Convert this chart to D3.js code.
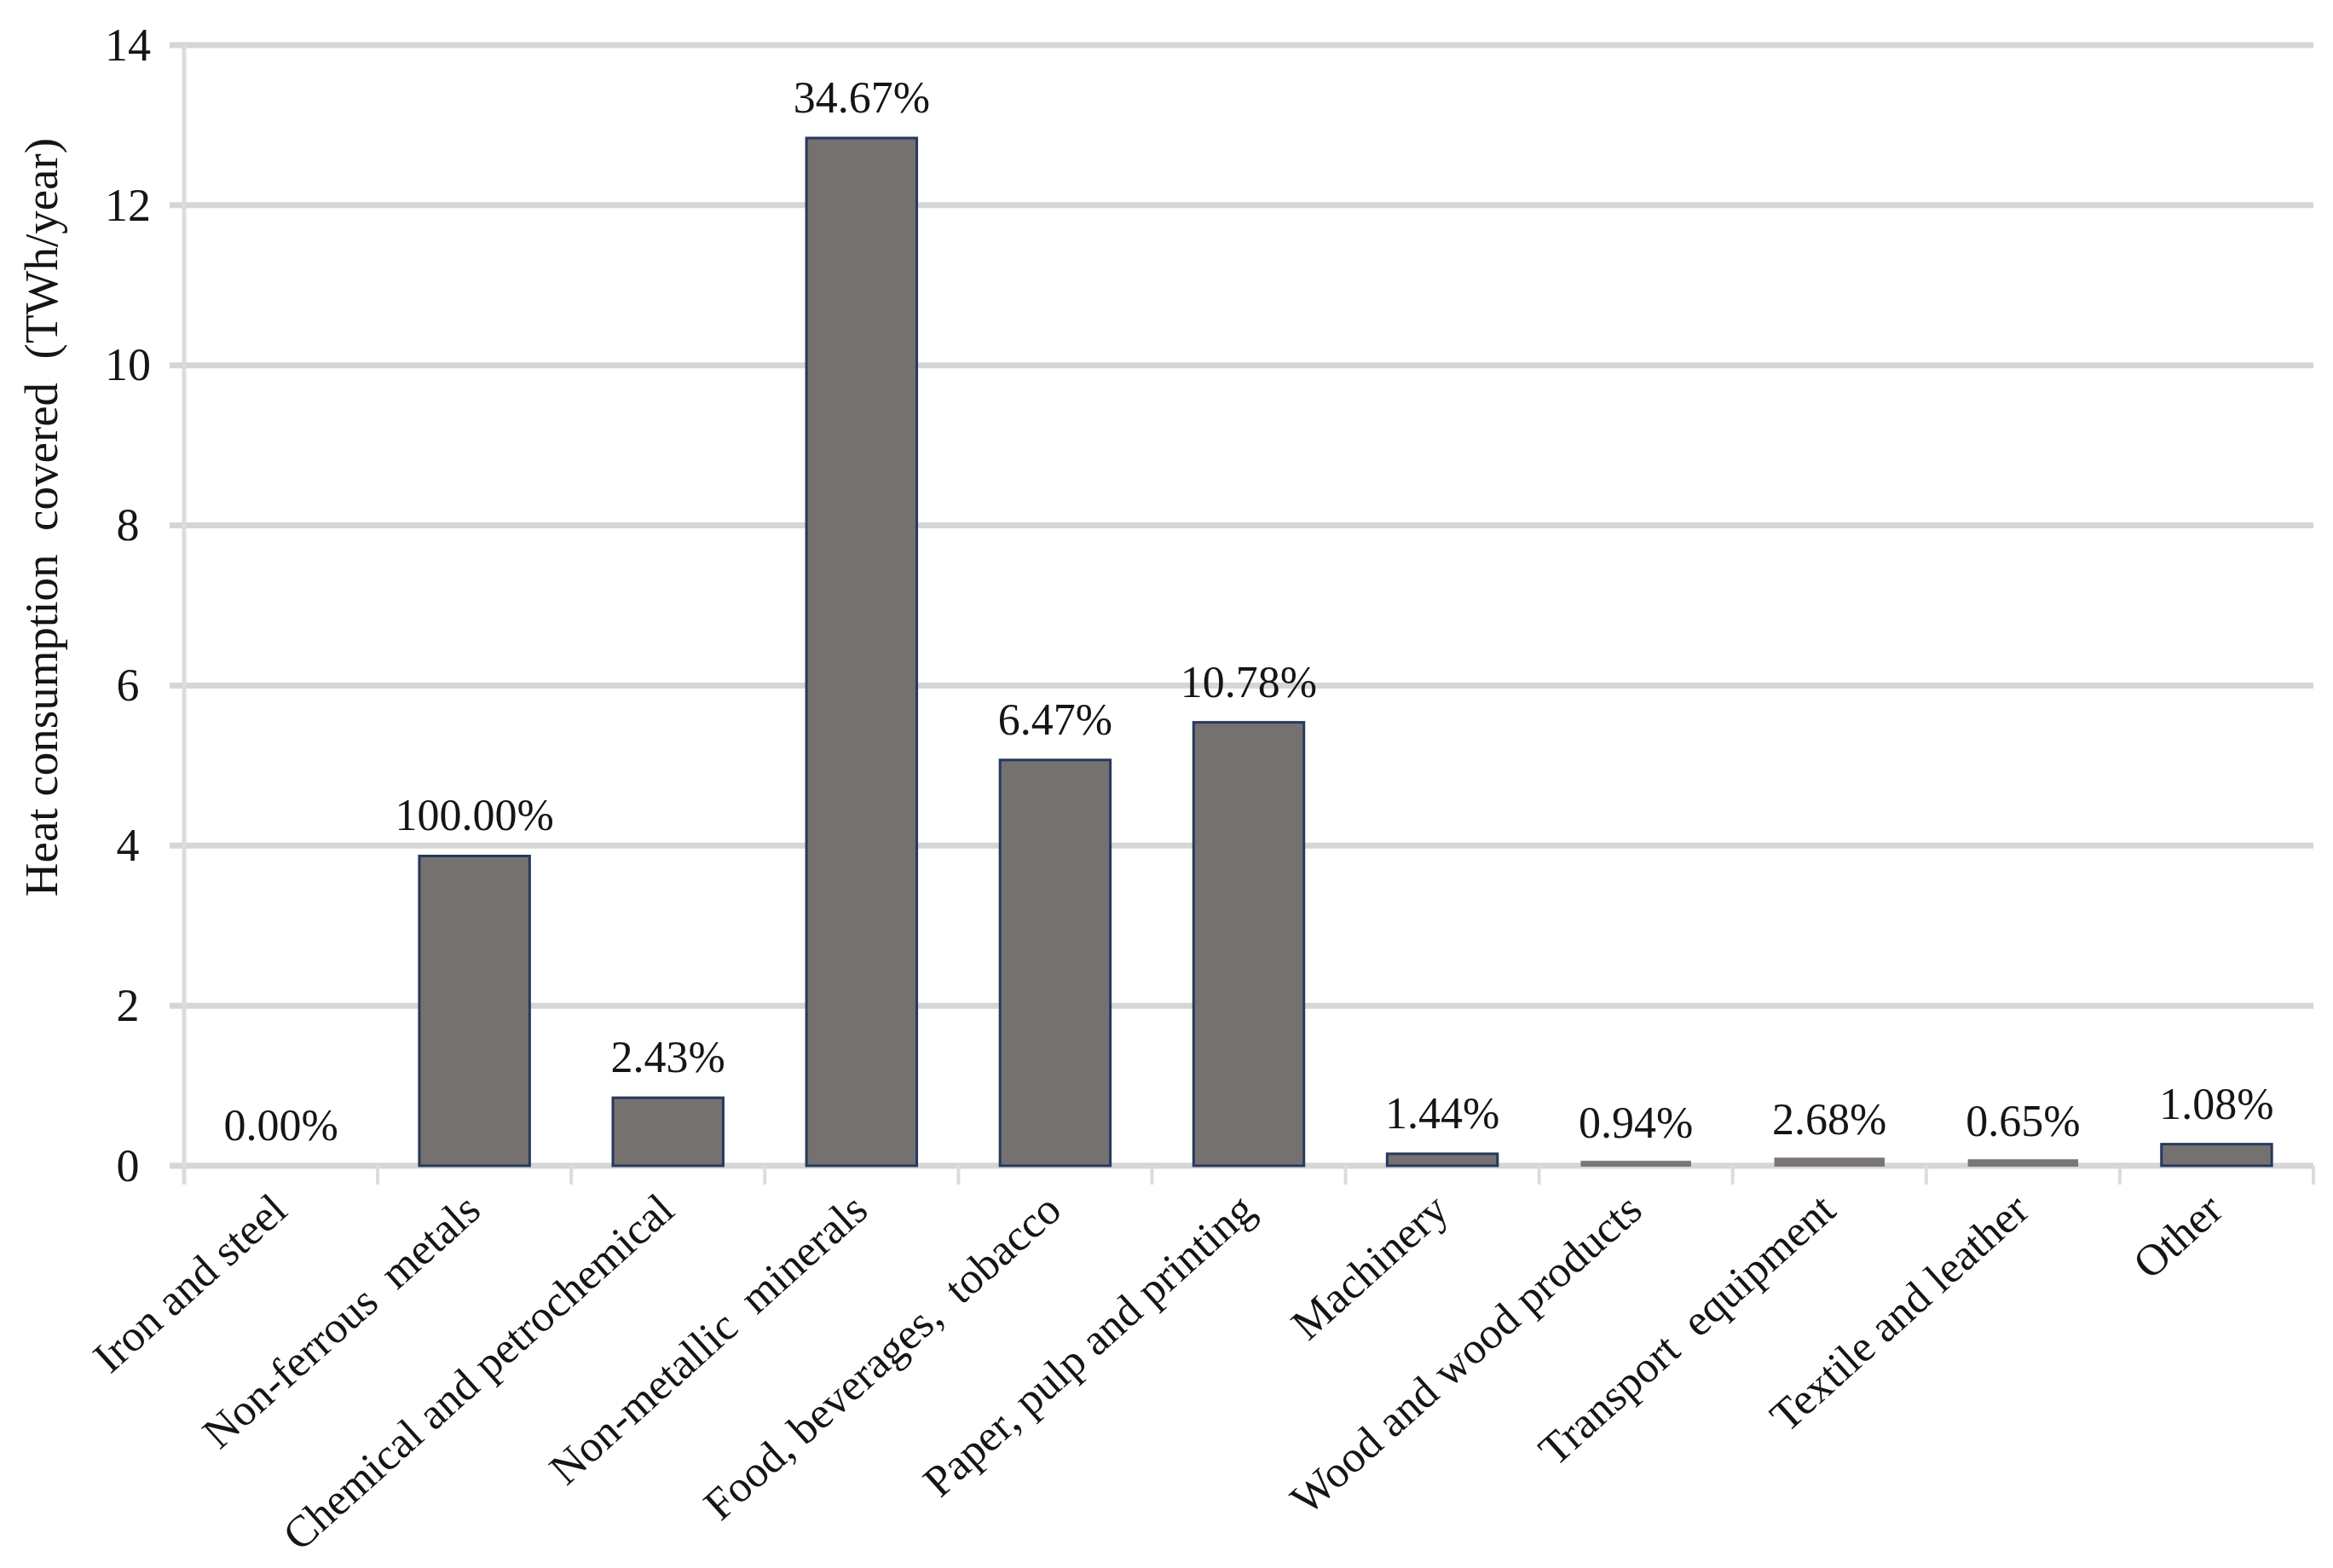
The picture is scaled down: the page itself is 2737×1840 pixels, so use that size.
<!DOCTYPE html>
<html>
<head>
<meta charset="utf-8">
<script src="https://cdn.jsdelivr.net/npm/d3@7"></script>
<style>
  html, body { margin: 0; padding: 0; background: #ffffff; }
  svg { display: block; }
  text { font-family: "Liberation Serif", "Times New Roman", serif; fill: #151515; }
</style>
</head>
<body>
<script>
const categories = [
  "Iron and steel",
  "Non-ferrous  metals",
  "Chemical and petrochemical",
  "Non-metallic  minerals",
  "Food, beverages,  tobacco",
  "Paper, pulp and printing",
  "Machinery",
  "Wood and wood products",
  "Transport  equipment",
  "Textile and leather",
  "Other"
];
const values = [0, 3.87, 0.85, 12.84, 5.07, 5.54, 0.15, 0.03, 0.07, 0.05, 0.27];
const shareLabels = ["0.00%", "100.00%", "2.43%", "34.67%", "6.47%", "10.78%", "1.44%", "0.94%", "2.68%", "0.65%", "1.08%"];
const yTicks = [0, 2, 4, 6, 8, 10, 12, 14];
const yTitle = "Heat consumption  covered  (TWh/year)";

const chartW = 2737, chartH = 1840;
const plotL = 216, plotR = 2714, plotT = 53, plotB = 1368;

const rows = categories.map((c, i) => ({ cat: c, val: values[i], lab: shareLabels[i] }));

const svg = d3.select("body").append("svg")
  .attr("width", chartW).attr("height", chartH)
  .attr("viewBox", `0 0 ${chartW} ${chartH}`);

svg.append("rect").attr("width", chartW).attr("height", chartH).attr("fill", "#ffffff");

const x = d3.scaleBand().domain(categories).range([plotL, plotR])
  .paddingInner(0.43).paddingOuter(0.215);
const y = d3.scaleLinear().domain([0, 14]).range([plotB, plotT]);

// gridlines
svg.append("g").selectAll("line").data(yTicks).join("line")
  .attr("x1", plotL - 17).attr("x2", plotR)
  .attr("y1", d => y(d)).attr("y2", d => y(d))
  .attr("stroke", "#d6d6d6").attr("stroke-width", 7);

// y axis line
svg.append("line")
  .attr("x1", plotL).attr("x2", plotL)
  .attr("y1", y(14)).attr("y2", plotB + 22)
  .attr("stroke", "#dcdcdc").attr("stroke-width", 5);

// x ticks at band boundaries
const boundaries = categories.slice(1).map(c => x(c) - x.step() * x.paddingInner() / 2).concat([plotR]);
svg.append("g").selectAll("line").data(boundaries).join("line")
  .attr("x1", d => d).attr("x2", d => d)
  .attr("y1", plotB).attr("y2", plotB + 22)
  .attr("stroke", "#dcdcdc").attr("stroke-width", 4);

// y tick labels
const yAxis = d3.axisLeft(y).tickValues(yTicks).tickSize(0).tickPadding(0);
const yg = svg.append("g").attr("transform", "translate(150,0)").call(yAxis);
yg.select(".domain").remove();
yg.selectAll("text")
  .attr("x", 0).attr("text-anchor", "middle")
  .attr("font-size", 54)
  .attr("font-family", "Liberation Serif, Times New Roman, serif")
  .attr("fill", "#151515");

// bars
const barH = d => Math.max(0, y(0) - y(d.val));
svg.append("g").selectAll("rect").data(rows.filter(d => barH(d) > 8)).join("rect")
  .attr("x", d => x(d.cat))
  .attr("width", x.bandwidth())
  .attr("y", d => y(d.val))
  .attr("height", barH)
  .attr("fill", "#767171")
  .attr("stroke", "#263a5c")
  .attr("stroke-width", 3);

// tiny bars: grey sliver
svg.append("g").selectAll("rect").data(rows.filter(d => d.val > 0 && barH(d) <= 8)).join("rect")
  .attr("x", d => x(d.cat))
  .attr("width", x.bandwidth())
  .attr("y", d => y(d.val) - 3)
  .attr("height", d => barH(d) + 4)
  .attr("fill", "#7a7676");

// value labels
svg.append("g").selectAll("text").data(rows).join("text")
  .attr("x", d => x(d.cat) + x.bandwidth() / 2)
  .attr("y", d => y(d.val) - 30)
  .attr("text-anchor", "middle")
  .attr("font-size", 52)
  .text(d => d.lab);

// category labels rotated
svg.append("g").selectAll("text").data(categories).join("text")
  .attr("transform", d => `translate(${x(d) + x.bandwidth() / 2 + 10},${plotB + 56}) rotate(-42)`)
  .attr("text-anchor", "end")
  .attr("font-size", 52)
  .style("white-space", "pre")
  .text(d => d);

// y title
svg.append("text")
  .attr("transform", "translate(67,607) rotate(-90)")
  .attr("text-anchor", "middle")
  .attr("font-size", 55)
  .style("white-space", "pre")
  .text(yTitle);
</script>
</body>
</html>
